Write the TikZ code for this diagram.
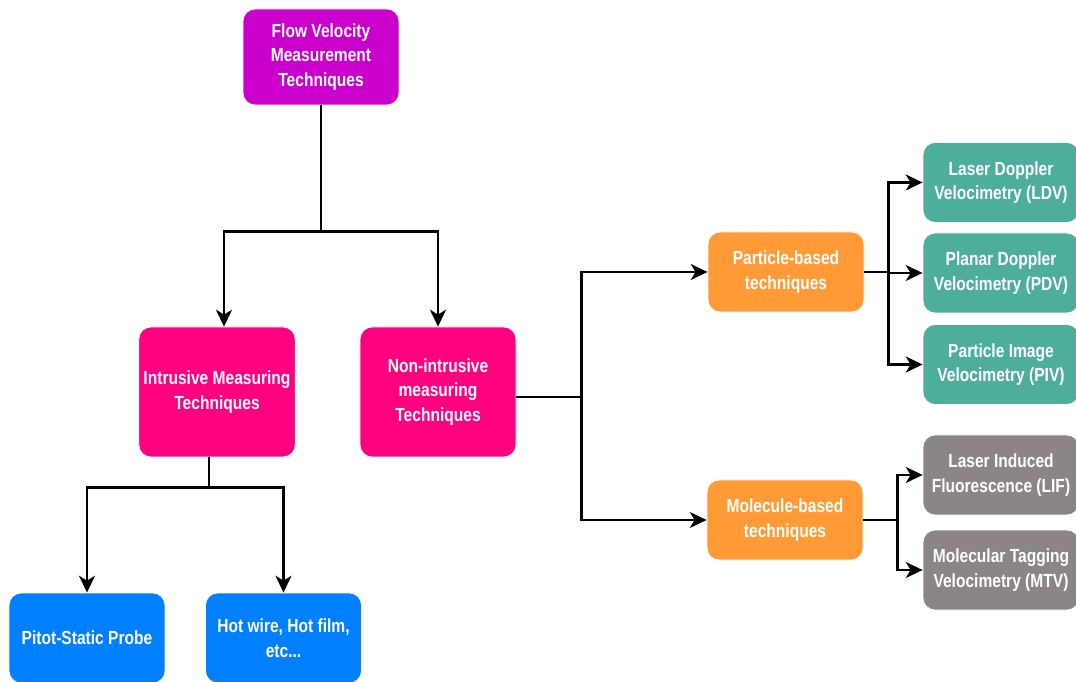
\documentclass[tikz,border=0pt]{standalone}
\usepackage{fontspec}
\newfontfamily\boxfont{Liberation Sans}[FakeStretch=0.82]
\usetikzlibrary{arrows.meta}

\begin{document}
\begin{tikzpicture}[
    % box style shared by every node
    techbox/.style={
        draw=white, line width=0.6pt, rounded corners=0.3cm,
        text=white, align=center,
        minimum width=3.9cm, minimum height=2cm,
        font=\boxfont\bfseries\fontsize{13.5}{17.5}\selectfont
    },
    % connector style
    arr/.style={line width=1.7pt, -{Stealth[length=4.2mm, width=4mm, inset=1.2mm]}},
    lnk/.style={line width=1.7pt}
]

\definecolor{topc}{HTML}{CC00CC}
\definecolor{pinkc}{HTML}{FF0080}
\definecolor{bluec}{HTML}{007FFF}
\definecolor{orangec}{HTML}{FF9A36}
\definecolor{tealc}{HTML}{4DAE9B}
\definecolor{grayc}{HTML}{8B8585}

\useasboundingbox (0,0) rectangle (26.9,17.025);

% Define the points of the boxes
\coordinate (T) at (8.025,15.6);
\coordinate (I) at (5.425,7.225);
\coordinate (N) at (10.95,7.225);
\coordinate (P1) at (2.175,1.075);
\coordinate (P2) at (7.0875,1.075);
\coordinate (PB) at (19.65,10.225);
\coordinate (MB) at (19.625,4.025);
\coordinate (L1) at (25.025,12.4625);
\coordinate (L2) at (25.025,10.2);
\coordinate (L3) at (25.025,7.9125);
\coordinate (G1) at (25.025,5.15);
\coordinate (G2) at (25.025,2.775);

% Draw the boxes
\node[techbox, fill=topc, minimum height=2.4cm] (flow) at (T) {Flow Velocity\\Measurement\\Techniques};
\node[techbox, fill=pinkc, minimum height=3.25cm] (intr) at (I) {Intrusive Measuring\\Techniques};
\node[techbox, fill=pinkc, minimum height=3.25cm] (nonintr) at (N) {Non-intrusive\\measuring\\Techniques};
\node[techbox, fill=bluec, minimum height=2.25cm] (pitot) at (P1) {Pitot-Static Probe};
\node[techbox, fill=bluec, minimum height=2.25cm] (hotwire) at (P2) {Hot wire, Hot film,\\etc...};
\node[techbox, fill=orangec] (particle) at (PB) {Particle-based\\techniques};
\node[techbox, fill=orangec] (molecule) at (MB) {Molecule-based\\techniques};
\node[techbox, fill=tealc] (ldv) at (L1) {Laser Doppler\\Velocimetry (LDV)};
\node[techbox, fill=tealc] (pdv) at (L2) {Planar Doppler\\Velocimetry (PDV)};
\node[techbox, fill=tealc] (piv) at (L3) {Particle Image\\Velocimetry (PIV)};
\node[techbox, fill=grayc] (lif) at (G1) {Laser Induced\\Fluorescence (LIF)};
\node[techbox, fill=grayc] (mtv) at (G2) {Molecular Tagging\\Velocimetry (MTV)};

% Draw the connectors
\draw[lnk] (flow.south) -- ++(0,-3.15) coordinate (fj);
\draw[arr] (fj) -| ([xshift=0.175cm]intr.north);
\draw[arr] (fj) -| (nonintr.north);

\draw[lnk] ([xshift=-0.2cm]intr.south) -- ++(0,-0.75) coordinate (ij);
\draw[arr] (ij) -| (pitot.north);
\draw[arr] (ij) -| (hotwire.north);

\draw[lnk] ([yshift=-0.125cm]nonintr.east) -- ++(1.625,0) coordinate (nj);
\draw[arr] (nj) |- (particle.west);
\draw[arr] (nj) |- (molecule.west);

\draw[lnk] (particle.east) -- ++(0.6,0) coordinate (pj);
\draw[arr] (pj) |- (ldv.west);
\draw[arr] (pj) |- (pdv.west);
\draw[arr] (pj) |- (piv.west);

\draw[lnk] (molecule.east) -- ++(0.85,0) coordinate (mj);
\draw[arr] (mj) |- (lif.west);
\draw[arr] (mj) |- (mtv.west);

\end{tikzpicture}
\end{document}
